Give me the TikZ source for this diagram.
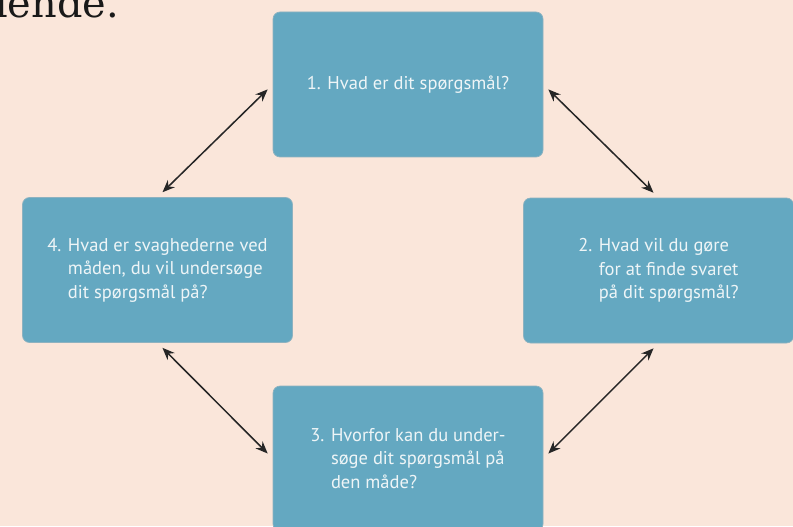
\documentclass[tikz,border=0pt]{standalone}
\usepackage{fontspec}
\newfontfamily\boxfont{PT Sans}
\newfontfamily\headfont{DejaVu Serif}
\usetikzlibrary{arrows.meta}
\definecolor{bgpeach}{HTML}{FAE6DA}
\definecolor{boxblue}{HTML}{64A8C1}
\definecolor{boxedge}{HTML}{8DB2C0}
\definecolor{boxtext}{HTML}{EEF5F7}
\tikzset{
  question/.style={
    rectangle, rounded corners=6pt, minimum width=8.1cm, minimum height=4.35cm,
    draw=boxedge, line width=0.6pt, fill=boxblue, text=boxtext,
    font=\boxfont\fontsize{15.8}{20}\selectfont, align=left
  },
  arrow/.style={
    <->, >={Stealth[length=10.5pt, width=8.5pt]}, line width=1.3pt, color=black!85,
    shorten >=0.21cm, shorten <=0.21cm
  }
}
\begin{document}
\begin{tikzpicture}
      % Page area
      \useasboundingbox (0,0) rectangle (23.79,15.78);
      \clip (0,0) rectangle (23.79,15.78);
      \fill[bgpeach] (0,0) rectangle (23.79,15.78);

      % Cut-off heading
      \node[anchor=base west, inner sep=0pt, text=black!90, font=\headfont\fontsize{34}{40}\selectfont] (head) at (-0.15,15.24) {lende.};

      % Question blocks
      \node[question] (q1) at (12.24,13.245) {1. Hvad er dit spørgsmål?};
      \node[question] (q2) at (19.755,7.665) {2. Hvad vil du gøre\\\hphantom{2. }for at finde svaret\\\hphantom{2. }på dit spørgsmål?};
      \node[question] (q3) at (12.24,2.025) {3. Hvorfor kan du under-\\\hphantom{3. }søge dit spørgsmål på\\\hphantom{3. }den måde?};
      \node[question] (q4) at (4.725,7.68) {4. Hvad er svaghederne ved\\\hphantom{4. }måden, du vil undersøge\\\hphantom{4. }dit spørgsmål på?};

      % Cycle arrows
      \draw[arrow] (q1.west) -- (q4.north);
      \draw[arrow] (q1.east) -- (q2.north);
      \draw[arrow] (q4.south) -- (q3.west);
      \draw[arrow] (q2.south) -- (q3.east);
    \end{tikzpicture}
\end{document}
